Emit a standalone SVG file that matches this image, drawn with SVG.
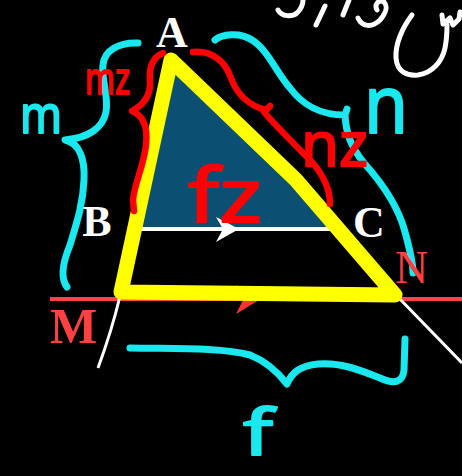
<svg xmlns="http://www.w3.org/2000/svg" width="462" height="476" viewBox="0 0 462 476">
<style>
.pen{fill:none;stroke-linecap:round;stroke-linejoin:round}
.cy{stroke:#19e8ee;stroke-width:7}
.rd{stroke:#ff0000;stroke-width:6.5}
.wh{stroke:#ffffff;stroke-width:5}
.hand{font-family:"Noto Sans","DejaVu Sans",sans-serif;stroke-width:2;stroke-linejoin:round}
.hr{fill:#ff0000;stroke:#ff0000}
.hc{fill:#19e8ee;stroke:#19e8ee}
.lbl{font-family:"Liberation Serif","Times New Roman",serif;font-weight:bold}
</style>
<rect width="462" height="476" fill="#000"/>
<g id="scribble">
<path class="pen wh" d="M278,10 C282,17 292,17 297,13 C301,9 303,4 303,0"/>
<path class="pen wh" d="M325,6 L316,25"/>
<path class="pen wh" d="M349,0 L343,15"/>
<path class="pen wh" d="M358,18 C362,27 372,28 380,20 C386,13 388,6 384,2 C379,-1 374,4 377,10"/>
<path class="pen wh" d="M412,15 C402,28 395,45 396,58 C397,72 407,76 418,75 C432,73 442,62 445,48 C447,38 447,30 447,25"/>
<path class="pen wh" d="M442,15 L443,24 L450,18 L453,25 L459,19 L460,12"/>
</g>
<g id="triangle-ABC">
<polygon points="173,62 133,229 333,229" fill="#0b4f73"/>
</g>
<g id="connectors">
<line x1="134" y1="229" x2="332" y2="229" stroke="#fff" stroke-width="4"/>
<polygon points="216,217 239,229 216,242 223,229" fill="#fff"/>
<line x1="50" y1="299" x2="462" y2="299" stroke="#ff4444" stroke-width="4"/>
<polygon points="236,285 259,300 236,314 243,300" fill="#ff3333"/>
<path d="M120,296 Q112,330 98,368" fill="none" stroke="#fff" stroke-width="3"/>
<line x1="396" y1="295" x2="462" y2="363" stroke="#fff" stroke-width="3"/>
</g>
<g id="triangle-AMN">
<path d="M171,60 L296,180 L395,295 L121,292 Z" fill="none" stroke="#ffff00" stroke-width="15" stroke-linejoin="round"/>
</g>
<g id="braces">
<path class="pen cy" d="M138,43 C120,42 104,50 103,65 C101,80 109,95 106,112 C103,128 88,138 65,140 C80,143 85,160 84,180 C83,205 76,225 70,245 C63,262 60,278 67,287"/>
<path class="pen cy" d="M215,40 C222,34 240,32 252,40 C268,50 276,72 290,88 C302,104 318,115 345,115 L347,109 M345,115 C346,132 350,146 364,163 C382,183 398,205 405,232 C410,250 413,262 413,273"/>
<path class="pen cy" d="M130,348 C170,349 220,347 250,355 C268,362 280,375 287,384 C292,372 300,366 318,364 C340,362 360,370 380,378 C395,385 403,382 404,370 L405,339"/>
<path class="pen rd" d="M163,53 C153,57 149,66 150,80 C151,92 147,103 132,111 C144,116 148,128 146,145 C144,165 134,185 133,200 L134,211"/>
<path class="pen rd" d="M193,52 C210,50 225,60 231,78 C237,95 250,106 266,110 L270,106 M264,112 C275,125 295,145 312,162 C324,176 330,190 330,204"/>
</g>
<g id="hand-labels">
<text class="hand hc" x="20" y="133" font-size="52" textLength="42" lengthAdjust="spacingAndGlyphs">m</text>
<text class="hand hc" x="364" y="133" font-size="80" textLength="44" lengthAdjust="spacingAndGlyphs">n</text>
<text class="hand hc" x="243" y="455" font-size="64" textLength="30" lengthAdjust="spacingAndGlyphs" font-family="'Liberation Sans',Arial,sans-serif">f</text>
<text class="hand hr" x="85" y="94" font-size="44" textLength="45" lengthAdjust="spacingAndGlyphs">mz</text>
<text class="hand hr" x="301" y="166" font-size="62" textLength="67" lengthAdjust="spacingAndGlyphs">nz</text>
<text class="hand hr" x="188" y="222" font-size="74" textLength="74" lengthAdjust="spacingAndGlyphs">fz</text>
</g>
<g id="point-A"><text class="lbl" x="172" y="47" font-size="44" fill="#fff" text-anchor="middle">A</text></g>
<g id="point-B"><text class="lbl" x="97" y="236" font-size="44" fill="#fff" text-anchor="middle">B</text></g>
<g id="point-C"><text class="lbl" x="369" y="237" font-size="44" fill="#fff" text-anchor="middle">C</text></g>
<g id="point-M"><text class="lbl" x="50" y="343" font-size="50" fill="#ff4040">M</text></g>
<g id="point-N"><text x="395" y="283" font-size="46" fill="#ff4040" font-family="'Liberation Serif','Times New Roman',serif">N</text></g>
</svg>
